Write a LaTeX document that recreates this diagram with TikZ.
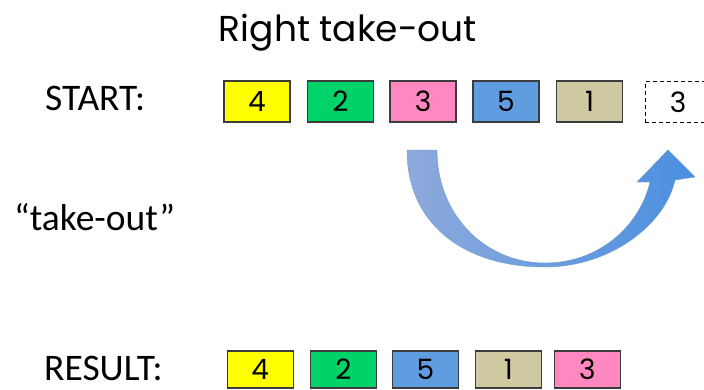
\documentclass[tikz,border=0pt]{standalone}
\usepackage{fontspec}
\setmainfont{Carlito}
\newfontfamily\comicf{Poppins}
\definecolor{cyellow}{HTML}{FFFF00}
\definecolor{cgreen}{HTML}{00D26A}
\definecolor{cpink}{HTML}{FF88C0}
\definecolor{cblue}{HTML}{5F9CE0}
\definecolor{cbeige}{HTML}{CFC9A2}
\definecolor{cborder}{HTML}{3C3C3C}
\definecolor{arrowL}{HTML}{8EAADC}
\definecolor{arrowR}{HTML}{4A8FE0}
\definecolor{arrowE}{HTML}{7099D2}
\tikzset{
  numbox/.style={draw=cborder, line width=1.3pt, minimum width=66pt, minimum height=41pt,
    inner sep=0pt, font=\comicf\fontsize{28}{28}\selectfont, text=black},
  resbox/.style={numbox, minimum height=37pt},
  ghostbox/.style={draw=black, line width=0.8pt, dash pattern=on 4pt off 3pt, minimum width=66pt,
    minimum height=41pt, inner sep=0pt, font=\comicf\fontsize{28}{28}\selectfont},
  rowlabel/.style={font=\fontsize{37.5}{37.5}\selectfont, inner sep=0pt, anchor=base west},
}
\begin{document}
\begin{tikzpicture}[x=1pt,y=-1pt]
\useasboundingbox (0,0) rectangle (704,389);
\fill[white] (0,0) rectangle (704,389);
% title
\node[font=\comicf\fontsize{36}{36}\selectfont, anchor=base, inner sep=0pt] (title) at (348,41.5) {Right take-out};
% row labels
\node[rowlabel] (start) at (45,110.5) {START:};
\node[rowlabel] (takeout) at (14,230) {“take-out”};
\node[rowlabel] (result) at (44,380) {RESULT:};
% start row
\node[numbox, fill=cyellow] (s4) at (257,101.5) {4};
\node[numbox, fill=cgreen]  (s2) at (340.5,101.5) {2};
\node[numbox, fill=cpink]   (s3) at (423,101.5) {3};
\node[numbox, fill=cblue]   (s5) at (506,101.5) {5};
\node[numbox, fill=cbeige]  (s1) at (589.5,101.5) {1};
\node[ghostbox] (g3) at (678,102) {3};
% result row
\node[resbox, fill=cyellow] (r4) at (260.3,369.5) {4};
\node[resbox, fill=cgreen]  (r2) at (343.3,369.5) {2};
\node[resbox, fill=cblue]   (r5) at (425.5,369.5) {5};
\node[resbox, fill=cbeige]  (r1) at (508.3,369.5) {1};
\node[resbox, fill=cpink]   (r3) at (587.3,369.5) {3};
% curved take-out arrow
\shade[left color=arrowL, right color=arrowR, draw=arrowE, line width=0.4pt, line join=round]
  (407,150) .. controls (407,225) and (465,267) .. (545,267)
  .. controls (610,267) and (665,225) .. (675,180)
  -- (695,177) -- (668,150) -- (637,182) -- (650,182)
  .. controls (640,225) and (600,263) .. (545,263)
  .. controls (485,263) and (437,215) .. (437,150)
  -- cycle;
\end{tikzpicture}
\end{document}
